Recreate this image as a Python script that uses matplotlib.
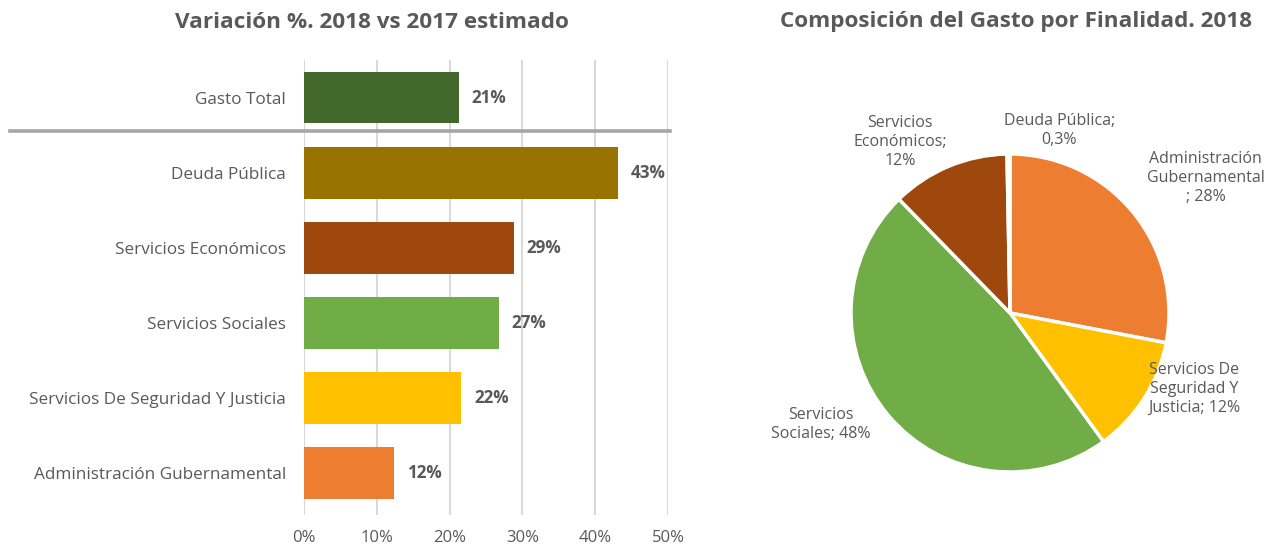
import matplotlib
matplotlib.use("Agg")
import matplotlib.pyplot as plt
from matplotlib.lines import Line2D
import numpy as np

plt.rcParams['font.family'] = ['Open Sans', 'DejaVu Sans']

# ---- data ----
bar_categories = ["Gasto Total", "Deuda Pública", "Servicios Económicos",
                  "Servicios Sociales", "Servicios De Seguridad Y Justicia",
                  "Administración Gubernamental"]
bar_values = [21.3, 43.1, 28.8, 26.8, 21.6, 12.4]
bar_labels = ["21%", "43%", "29%", "27%", "22%", "12%"]
bar_colors = ["#43682B", "#997300", "#9E480E", "#70AD47", "#FFC000", "#ED7D31"]
x_ticks = [0, 10, 20, 30, 40, 50]
x_ticklabels = ["0%", "10%", "20%", "30%", "40%", "50%"]

pie_categories = ["Administración Gubernamental", "Servicios De Seguridad Y Justicia",
                  "Servicios Sociales", "Servicios Económicos", "Deuda Pública"]
pie_values = [28.0, 12.0, 47.7, 12.0, 0.3]
pie_labels = ["Administración\nGubernamental\n; 28%", "Servicios De\nSeguridad Y\nJusticia; 12%",
              "Servicios\nSociales; 48%", "Servicios\nEconómicos;\n12%", "Deuda Pública;\n0,3%"]
pie_colors = ["#ED7D31", "#FFC000", "#70AD47", "#9E480E", "#C9A24A"]

TXT = "#595959"
W, H = 1266, 544
fig = plt.figure(figsize=(W / 100, H / 100), dpi=100)

# ---- bar chart ----
ax = fig.add_axes([304 / W, 1 - 515 / H, 364 / W, 455 / H])
y = np.arange(len(bar_categories))
ax.barh(y, bar_values, height=0.69, color=bar_colors, zorder=3)
ax.set_xlim(0, 50)
ax.set_ylim(5.56, -0.5)
ax.set_xticks(x_ticks)
ax.set_xticklabels(x_ticklabels, color=TXT, fontsize=12)
ax.set_yticks(y)
ax.set_yticklabels(bar_categories, color=TXT, fontsize=12.3)
ax.tick_params(axis='both', length=0)
ax.tick_params(axis='y', pad=13)
ax.tick_params(axis='x', pad=10.5)
ax.grid(axis='x', color='#D9D9D9', linewidth=1.5, zorder=0)
for s in ax.spines.values():
    s.set_visible(False)
for yi, v, lab in zip(y, bar_values, bar_labels):
    ax.text(v + 1.75, yi, lab, va='center', ha='left', fontsize=12.3,
            fontweight='bold', color=TXT)
fig.add_artist(Line2D([10 / W, 670 / W], [1 - 131 / H, 1 - 131 / H],
                      color='#A6A6A6', linewidth=2.6))
fig.text(372 / W, 1 - 22 / H, "Variación %. 2018 vs 2017 estimado", ha='center',
         va='center', fontsize=16.2, fontweight='bold', color=TXT)

# ---- pie chart ----
R = 159
half = 1.6 * R
ax2 = fig.add_axes([(1010 - half) / W, (H - 313 - half) / H, 2 * half / W, 2 * half / H])
ax2.pie(pie_values, colors=pie_colors, startangle=90, counterclock=False,
        wedgeprops=dict(edgecolor='white', linewidth=2.5), radius=1)
ax2.set_xlim(-1.6, 1.6)
ax2.set_ylim(-1.6, 1.6)
ax2.set_aspect('equal')
ax2.axis('off')
label_pos = [(1.23, 0.85), (1.16, -0.48), (-1.19, -0.70), (-0.69, 1.075), (0.31, 1.15)]
for (lx, ly), lab in zip(label_pos, pie_labels):
    ax2.text(lx, ly, lab, ha='center', va='center', fontsize=11.5, color=TXT,
             linespacing=1.25, clip_on=False)
fig.text(1016 / W, 1 - 22 / H, "Composición del Gasto por Finalidad. 2018", ha='center',
         va='center', fontsize=16.2, fontweight='bold', color=TXT)

fig.savefig("out.png", dpi=100)
